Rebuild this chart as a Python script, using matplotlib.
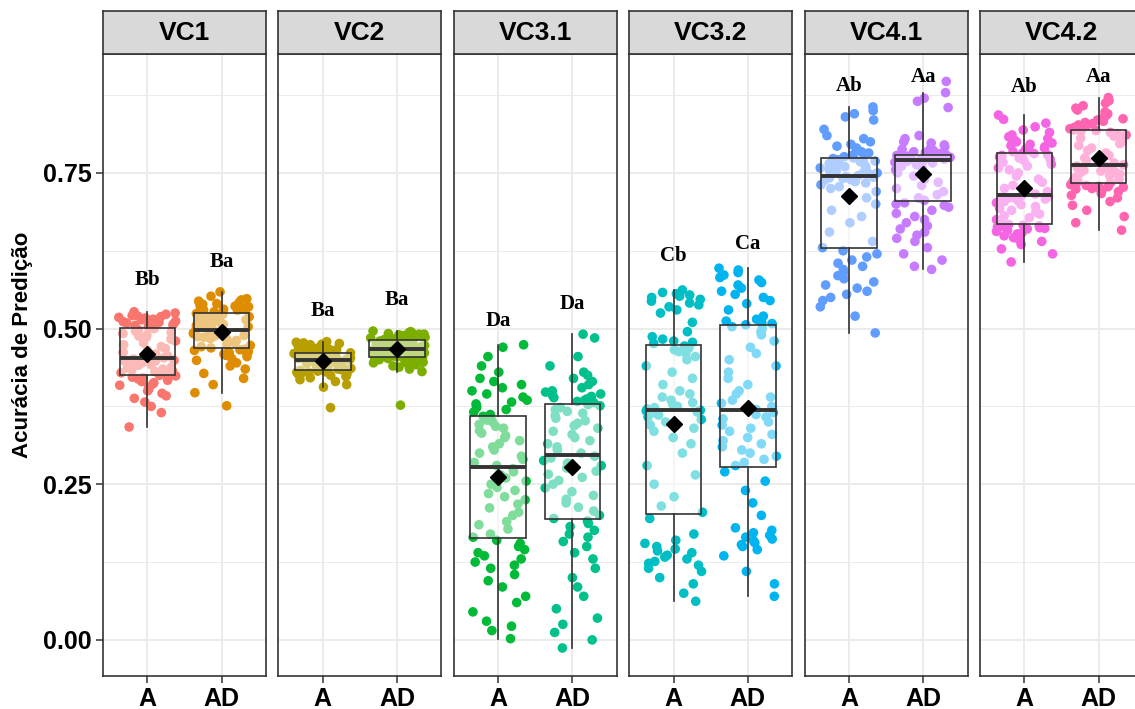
import numpy as np
import matplotlib.pyplot as plt

panels = ["VC1", "VC2", "VC3.1", "VC3.2", "VC4.1", "VC4.2"]
groups = ["A", "AD"]
letters = [["Bb", "Ba"], ["Ba", "Ba"], ["Da", "Da"], ["Cb", "Ca"], ["Ab", "Aa"], ["Ab", "Aa"]]

# acurácia de predição por repetição
vc1_a = [0.342, 0.365, 0.375, 0.382, 0.388, 0.392, 0.396, 0.400, 0.403, 0.406, 0.409, 0.411, 0.413, 0.415, 0.417, 0.419, 0.421, 0.422, 0.424, 0.425,
         0.426, 0.428, 0.429, 0.431, 0.432, 0.434, 0.435, 0.437, 0.438, 0.440, 0.441, 0.442, 0.444, 0.445, 0.446, 0.447, 0.448, 0.449, 0.450, 0.451,
         0.453, 0.456, 0.459, 0.462, 0.465, 0.468, 0.471, 0.474, 0.477, 0.480, 0.483, 0.486, 0.488, 0.490, 0.492, 0.494, 0.496, 0.498, 0.500, 0.501,
         0.503, 0.505, 0.506, 0.508, 0.509, 0.510, 0.511, 0.512, 0.513, 0.514, 0.515, 0.516, 0.517, 0.518, 0.519, 0.520, 0.521, 0.523, 0.525, 0.527]
vc1_ad = [0.376, 0.397, 0.410, 0.420, 0.428, 0.435, 0.440, 0.445, 0.449, 0.452, 0.455, 0.457, 0.459, 0.461, 0.462, 0.463, 0.464, 0.465, 0.466, 0.467,
          0.469, 0.471, 0.473, 0.475, 0.477, 0.479, 0.481, 0.483, 0.484, 0.486, 0.487, 0.488, 0.489, 0.490, 0.491, 0.492, 0.493, 0.494, 0.496, 0.497,
          0.499, 0.500, 0.502, 0.503, 0.505, 0.506, 0.507, 0.509, 0.510, 0.511, 0.513, 0.514, 0.515, 0.516, 0.518, 0.519, 0.520, 0.521, 0.523, 0.524,
          0.526, 0.527, 0.528, 0.529, 0.530, 0.531, 0.532, 0.533, 0.534, 0.535, 0.536, 0.538, 0.539, 0.540, 0.542, 0.544, 0.546, 0.548, 0.552, 0.559]
vc2_a = [0.373, 0.406, 0.410, 0.415, 0.418, 0.421, 0.423, 0.425, 0.426, 0.427, 0.428, 0.429, 0.430, 0.430, 0.431, 0.431, 0.432, 0.432, 0.433, 0.433,
         0.434, 0.435, 0.436, 0.437, 0.438, 0.439, 0.440, 0.441, 0.442, 0.443, 0.444, 0.445, 0.445, 0.446, 0.447, 0.447, 0.448, 0.448, 0.449, 0.449,
         0.450, 0.451, 0.451, 0.452, 0.453, 0.453, 0.454, 0.455, 0.455, 0.456, 0.457, 0.457, 0.458, 0.458, 0.459, 0.459, 0.460, 0.460, 0.461, 0.461,
         0.462, 0.463, 0.464, 0.465, 0.465, 0.466, 0.467, 0.468, 0.468, 0.469, 0.470, 0.471, 0.472, 0.473, 0.474, 0.475, 0.476, 0.477, 0.478, 0.479]
vc2_ad = [0.377, 0.431, 0.435, 0.438, 0.440, 0.442, 0.444, 0.445, 0.446, 0.447, 0.448, 0.449, 0.450, 0.450, 0.451, 0.451, 0.452, 0.452, 0.453, 0.453,
          0.454, 0.455, 0.456, 0.457, 0.458, 0.458, 0.459, 0.460, 0.461, 0.461, 0.462, 0.462, 0.463, 0.463, 0.464, 0.464, 0.465, 0.465, 0.466, 0.466,
          0.468, 0.469, 0.470, 0.471, 0.471, 0.472, 0.473, 0.474, 0.474, 0.475, 0.476, 0.476, 0.477, 0.478, 0.478, 0.479, 0.479, 0.480, 0.480, 0.481,
          0.482, 0.483, 0.483, 0.484, 0.485, 0.485, 0.486, 0.487, 0.487, 0.488, 0.489, 0.489, 0.490, 0.491, 0.491, 0.492, 0.493, 0.494, 0.495, 0.496]
vc31_a = [0.002, 0.015, 0.022, 0.030, 0.045, 0.060, 0.070, 0.085, 0.095, 0.105, 0.115, 0.120, 0.125, 0.130, 0.135, 0.140, 0.145, 0.150, 0.155, 0.160,
          0.165, 0.170, 0.178, 0.185, 0.190, 0.200, 0.205, 0.212, 0.218, 0.225, 0.230, 0.235, 0.240, 0.245, 0.250, 0.255, 0.260, 0.265, 0.270, 0.275,
          0.280, 0.285, 0.290, 0.295, 0.300, 0.305, 0.310, 0.315, 0.320, 0.325, 0.328, 0.332, 0.336, 0.340, 0.343, 0.346, 0.350, 0.353, 0.356, 0.359,
          0.362, 0.366, 0.370, 0.373, 0.376, 0.379, 0.382, 0.385, 0.390, 0.395, 0.400, 0.405, 0.410, 0.415, 0.420, 0.430, 0.440, 0.455, 0.470, 0.474]
vc31_ad = [-0.013, 0.000, 0.012, 0.025, 0.035, 0.050, 0.070, 0.085, 0.100, 0.115, 0.130, 0.140, 0.150, 0.158, 0.165, 0.170, 0.176, 0.182, 0.187, 0.191,
           0.195, 0.200, 0.207, 0.213, 0.220, 0.226, 0.232, 0.238, 0.244, 0.250, 0.256, 0.261, 0.266, 0.271, 0.276, 0.280, 0.284, 0.288, 0.292, 0.295,
           0.300, 0.305, 0.310, 0.315, 0.320, 0.325, 0.330, 0.335, 0.340, 0.344, 0.348, 0.352, 0.356, 0.360, 0.364, 0.367, 0.370, 0.373, 0.376, 0.378,
           0.381, 0.383, 0.385, 0.387, 0.389, 0.391, 0.393, 0.395, 0.398, 0.400, 0.405, 0.410, 0.415, 0.420, 0.425, 0.430, 0.440, 0.455, 0.485, 0.491]
vc32_a = [0.062, 0.075, 0.090, 0.100, 0.110, 0.115, 0.120, 0.123, 0.126, 0.130, 0.133, 0.136, 0.140, 0.143, 0.146, 0.150, 0.155, 0.160, 0.170, 0.195,
          0.205, 0.215, 0.230, 0.250, 0.265, 0.280, 0.300, 0.315, 0.325, 0.335, 0.340, 0.345, 0.350, 0.354, 0.358, 0.361, 0.364, 0.366, 0.368, 0.369,
          0.371, 0.373, 0.375, 0.378, 0.381, 0.385, 0.390, 0.395, 0.400, 0.410, 0.420, 0.430, 0.440, 0.450, 0.455, 0.460, 0.463, 0.466, 0.469, 0.472,
          0.476, 0.478, 0.480, 0.483, 0.487, 0.495, 0.510, 0.525, 0.530, 0.535, 0.538, 0.541, 0.544, 0.547, 0.550, 0.552, 0.554, 0.556, 0.558, 0.562]
vc32_ad = [0.070, 0.090, 0.110, 0.135, 0.145, 0.150, 0.153, 0.156, 0.159, 0.162, 0.165, 0.168, 0.172, 0.176, 0.180, 0.200, 0.220, 0.240, 0.255, 0.270,
           0.280, 0.285, 0.290, 0.295, 0.300, 0.305, 0.310, 0.315, 0.320, 0.325, 0.330, 0.335, 0.340, 0.345, 0.350, 0.355, 0.358, 0.362, 0.365, 0.368,
           0.370, 0.375, 0.380, 0.385, 0.390, 0.395, 0.400, 0.410, 0.420, 0.430, 0.440, 0.450, 0.460, 0.470, 0.480, 0.490, 0.495, 0.500, 0.503, 0.506,
           0.508, 0.510, 0.512, 0.515, 0.520, 0.530, 0.540, 0.545, 0.550, 0.555, 0.560, 0.565, 0.570, 0.574, 0.578, 0.582, 0.586, 0.590, 0.594, 0.597]
vc41_a = [0.493, 0.520, 0.535, 0.545, 0.550, 0.555, 0.560, 0.565, 0.570, 0.575, 0.580, 0.585, 0.590, 0.595, 0.600, 0.605, 0.610, 0.615, 0.620, 0.625,
          0.630, 0.640, 0.655, 0.670, 0.680, 0.690, 0.700, 0.710, 0.720, 0.725, 0.728, 0.731, 0.734, 0.736, 0.738, 0.739, 0.741, 0.742, 0.743, 0.744,
          0.746, 0.748, 0.750, 0.751, 0.753, 0.754, 0.756, 0.757, 0.758, 0.760, 0.761, 0.762, 0.764, 0.765, 0.766, 0.768, 0.769, 0.770, 0.771, 0.773,
          0.774, 0.776, 0.778, 0.780, 0.782, 0.784, 0.786, 0.788, 0.790, 0.793, 0.796, 0.800, 0.805, 0.810, 0.820, 0.835, 0.840, 0.845, 0.850, 0.856]
vc41_ad = [0.595, 0.600, 0.610, 0.620, 0.630, 0.640, 0.645, 0.650, 0.655, 0.660, 0.665, 0.670, 0.675, 0.680, 0.685, 0.690, 0.695, 0.698, 0.700, 0.702,
           0.706, 0.710, 0.715, 0.720, 0.725, 0.730, 0.735, 0.740, 0.745, 0.750, 0.755, 0.758, 0.761, 0.763, 0.765, 0.766, 0.767, 0.768, 0.769, 0.770,
           0.771, 0.772, 0.772, 0.773, 0.773, 0.774, 0.774, 0.775, 0.775, 0.775, 0.776, 0.776, 0.776, 0.777, 0.777, 0.777, 0.778, 0.778, 0.778, 0.779,
           0.780, 0.781, 0.782, 0.783, 0.784, 0.785, 0.786, 0.788, 0.790, 0.792, 0.795, 0.798, 0.800, 0.805, 0.810, 0.855, 0.865, 0.870, 0.879, 0.897]
vc42_a = [0.607, 0.620, 0.628, 0.635, 0.640, 0.643, 0.646, 0.649, 0.652, 0.654, 0.656, 0.658, 0.660, 0.661, 0.662, 0.663, 0.664, 0.665, 0.666, 0.667,
          0.669, 0.672, 0.675, 0.678, 0.681, 0.684, 0.687, 0.690, 0.693, 0.696, 0.699, 0.702, 0.704, 0.706, 0.708, 0.709, 0.710, 0.711, 0.712, 0.714,
          0.716, 0.720, 0.725, 0.730, 0.735, 0.740, 0.745, 0.750, 0.755, 0.758, 0.761, 0.764, 0.767, 0.770, 0.772, 0.774, 0.776, 0.778, 0.779, 0.781,
          0.782, 0.784, 0.786, 0.788, 0.790, 0.792, 0.794, 0.796, 0.798, 0.800, 0.802, 0.805, 0.808, 0.811, 0.815, 0.819, 0.824, 0.830, 0.836, 0.843]
vc42_ad = [0.658, 0.670, 0.680, 0.690, 0.698, 0.704, 0.710, 0.714, 0.717, 0.720, 0.722, 0.724, 0.725, 0.726, 0.727, 0.728, 0.729, 0.730, 0.731, 0.732,
           0.734, 0.736, 0.738, 0.740, 0.742, 0.744, 0.746, 0.748, 0.750, 0.751, 0.752, 0.753, 0.754, 0.755, 0.756, 0.757, 0.758, 0.759, 0.760, 0.761,
           0.763, 0.766, 0.770, 0.774, 0.778, 0.782, 0.786, 0.790, 0.794, 0.797, 0.800, 0.803, 0.806, 0.809, 0.811, 0.813, 0.815, 0.817, 0.818, 0.819,
           0.821, 0.823, 0.825, 0.827, 0.829, 0.831, 0.833, 0.835, 0.837, 0.839, 0.841, 0.843, 0.845, 0.848, 0.851, 0.854, 0.858, 0.862, 0.866, 0.871]

data = [[vc1_a, vc1_ad], [vc2_a, vc2_ad], [vc31_a, vc31_ad],
        [vc32_a, vc32_ad], [vc41_a, vc41_ad], [vc42_a, vc42_ad]]

# altura das letras (teste de médias)
label_y = [[0.578, 0.607], [0.528, 0.546], [0.512, 0.540],
           [0.617, 0.636], [0.890, 0.904], [0.888, 0.904]]

# paleta padrão do ggplot (12 cores)
cores = ["#F8766D", "#DE8C00", "#B79F00", "#7CAE00", "#00BA38", "#00C08B",
         "#00BFC4", "#00B4F0", "#619CFF", "#C77CFF", "#F564E3", "#FF64B0"]

W, H = 1135, 709
fig = plt.figure(figsize=(W / 100, H / 100), dpi=100)
escuro = "#333333"

for k, nome in enumerate(panels):
    x0 = 103 + k * 175.4
    ax = fig.add_axes([x0 / W, (H - 676) / H, 163 / W, 622 / H])
    st = fig.add_axes([x0 / W, (H - 54) / H, 163 / W, 43 / H])

    for j in range(2):
        vals = np.array(data[k][j])
        idx = np.arange(len(vals)) + 100 * (2 * k + j)
        # deslocamento horizontal determinístico (tipo jitter)
        h = np.sin(idx * 12.9898 + 78.233) * 43758.5453
        jit = ((h - np.floor(h)) - 0.5) * 0.78
        ax.scatter(j + 1 + jit, vals, s=48, color=cores[2 * k + j],
                   edgecolors="none", zorder=2)

    ax.boxplot(data[k], positions=[1, 2], widths=0.75, patch_artist=True,
               showfliers=False, showcaps=False,
               boxprops=dict(facecolor=(1, 1, 1, 0.5), edgecolor=escuro, linewidth=1.2),
               medianprops=dict(color=escuro, linewidth=2.8),
               whiskerprops=dict(color=escuro, linewidth=1.2), zorder=3)

    medias = [np.mean(d) for d in data[k]]
    ax.plot([1, 2], medias, "D", color="black", ms=8, zorder=4)

    for j in range(2):
        ax.text(j + 1, label_y[k][j], letters[k][j], ha="center", va="center",
                fontsize=15, fontweight="bold", family="Liberation Serif", zorder=5)

    ax.set_xlim(0.4, 2.6)
    ax.set_ylim(-0.058, 0.941)
    ax.set_yticks([0, 0.25, 0.5, 0.75])
    ax.set_yticks([0.125, 0.375, 0.625, 0.875], minor=True)
    ax.set_xticks([1, 2])
    ax.set_xticklabels(groups, fontsize=18, fontweight="bold", family="Liberation Sans")
    ax.grid(which="major", color="#EBEBEB", lw=1.4)
    ax.grid(which="minor", axis="y", color="#EBEBEB", lw=0.7)
    ax.set_axisbelow(True)
    ax.tick_params(which="minor", length=0)
    ax.tick_params(axis="both", colors=escuro, labelcolor="black", length=5, width=1.1, pad=3)
    if k == 0:
        ax.set_yticklabels(["0.00", "0.25", "0.50", "0.75"], fontsize=18,
                           fontweight="bold", family="Liberation Sans")
    else:
        ax.tick_params(axis="y", length=0, labelleft=False)
    for s in ax.spines.values():
        s.set_color(escuro)
        s.set_linewidth(1.2)

    st.set_facecolor("#D9D9D9")
    st.set_xticks([])
    st.set_yticks([])
    for s in st.spines.values():
        s.set_color(escuro)
        s.set_linewidth(1.2)
    st.text(0.5, 0.48, nome, ha="center", va="center", fontsize=19,
            fontweight="bold", family="Liberation Sans", transform=st.transAxes)

fig.text(23 / W, (H - 345) / H, "Acurácia de Predição", rotation=90,
         ha="center", va="center", fontsize=16, fontweight="bold",
         family="Liberation Sans")

fig.savefig("out.png", dpi=100)
